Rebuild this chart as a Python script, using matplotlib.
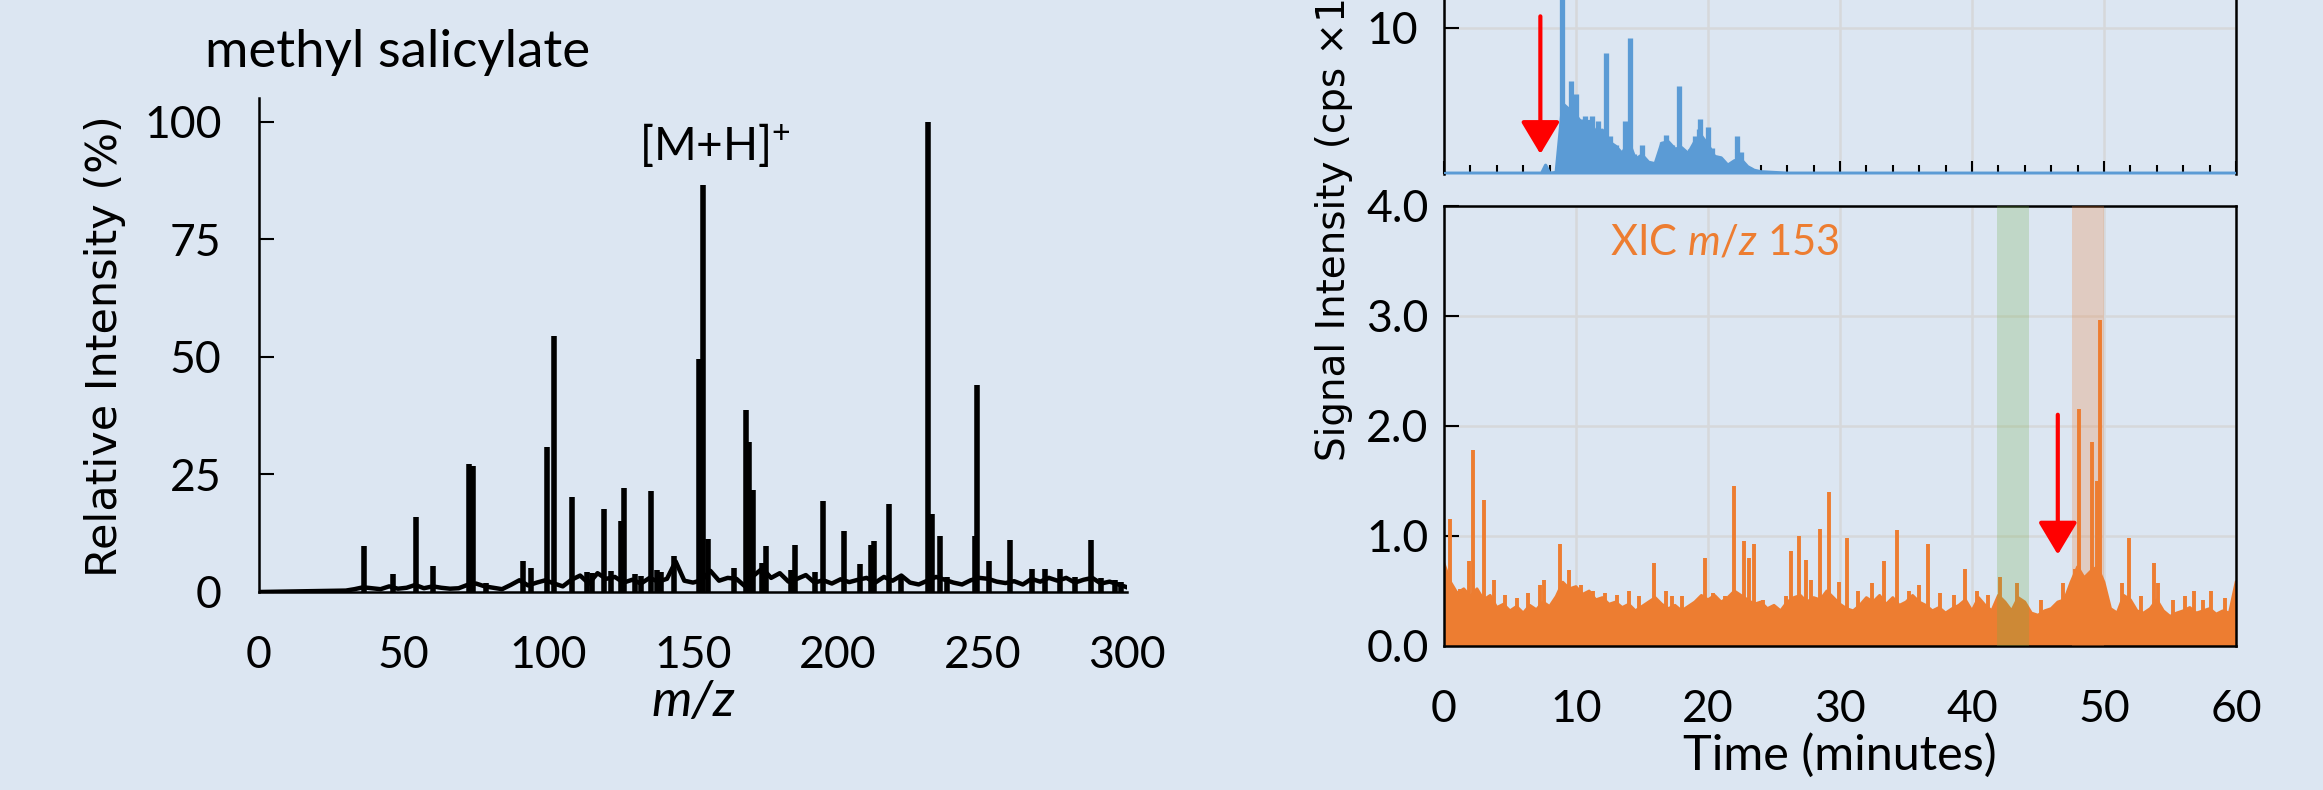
import matplotlib
matplotlib.use("Agg")
import matplotlib.pyplot as plt
import numpy as np

# ---------------- data ----------------
# mass spectrum (methyl salicylate), profile baseline + peaks
mz_base = [0, 30, 33, 36, 39, 42, 45, 48, 51, 54, 57, 60, 63, 66, 69, 72, 75, 78, 81, 84,
           87, 90, 93, 96, 99, 102, 105, 108, 111, 114, 117, 120, 123, 126, 129, 132, 135,
           138, 141, 144, 147, 150, 153, 156, 159, 162, 165, 168, 171, 174, 177, 180, 183,
           186, 189, 192, 195, 198, 201, 204, 207, 210, 213, 216, 219, 222, 225, 228, 231,
           234, 237, 240, 243, 246, 249, 252, 255, 258, 261, 264, 267, 270, 273, 276, 279,
           282, 285, 288, 291, 294, 297, 300]
int_base = [0, 0.3, 0.6, 1.0, 0.8, 0.6, 1.2, 0.7, 0.9, 1.5, 0.8, 1.2, 0.9, 0.7, 0.8, 1.5,
            1.8, 1.2, 0.9, 0.6, 1.5, 2.5, 1.4, 2.0, 2.5, 1.8, 1.2, 2.6, 3.5, 1.8, 4.0, 2.8,
            3.2, 2.0, 2.6, 1.8, 3.0, 2.2, 2.8, 6.5, 2.4, 2.0, 2.5, 4.5, 2.4, 3.0, 2.8, 1.2,
            3.5, 5.0, 3.0, 4.0, 2.2, 2.8, 3.6, 2.0, 2.5, 1.8, 2.7, 2.1, 2.6, 3.0, 2.0, 3.2,
            2.4, 3.5, 2.0, 1.6, 2.4, 3.2, 2.6, 2.0, 1.6, 2.5, 3.0, 2.8, 2.2, 1.9, 2.3, 1.6,
            2.8, 2.2, 3.0, 2.4, 3.0, 2.0, 2.6, 3.0, 1.8, 2.2, 1.6, 1.0]
mz_peak = [36.4, 46.3, 54.4, 60.2, 72.7, 74.1, 78.3, 91.4, 94.1, 99.5, 102.1, 108.2,
           113.5, 115.0, 119.3, 121.5, 125.2, 126.3, 130.0, 132.0, 135.4, 137.5, 139.0,
           143.6, 152.1, 153.3, 155.2, 164.0, 168.3, 169.4, 170.9, 174.0, 175.1, 184.0,
           185.2, 192.0, 195.1, 202.1, 207.6, 211.5, 212.6, 217.6, 222.0, 231.3, 232.7,
           235.2, 237.7, 247.3, 248.1, 252.3, 259.4, 267.2, 271.5, 277.0, 282.0, 287.4,
           291.0, 295.9, 298.0]
int_peak = [9.8, 3.8, 15.9, 5.5, 27.2, 26.7, 2.0, 6.6, 5.2, 30.9, 54.5, 20.1,
            4.2, 4.0, 17.7, 4.5, 15.0, 22.1, 3.8, 3.5, 21.4, 4.6, 4.2,
            7.6, 49.5, 86.5, 11.2, 5.0, 38.6, 31.9, 21.7, 6.2, 9.8, 4.6,
            9.9, 4.2, 19.3, 13.0, 6.0, 10.0, 10.8, 18.6, 3.6, 100.0, 16.5,
            11.9, 3.2, 12.0, 44.0, 6.6, 11.0, 4.9, 4.9, 4.9, 3.2, 11.0,
            3.0, 2.5, 2.2]

# top chromatogram (blue), baseline envelope + spikes
t_blue = [0, 7.4, 7.7, 8.0, 8.5, 9.0, 9.5, 10.0, 10.5, 11.0, 11.5, 12.0, 12.5, 13.0,
          13.5, 14.0, 14.5, 15.0, 15.5, 16.0, 16.5, 17.0, 17.5, 18.0, 18.5, 19.0, 19.5,
          20.0, 20.5, 21.0, 21.5, 22.0, 22.5, 23.0, 23.5, 24.0, 25.0, 26.0, 60]
v_blue = [0.05, 0.05, 0.6, 0.05, 0.1, 4.8, 4.4, 4.0, 3.4, 3.6, 2.9, 3.0, 2.2, 1.9,
          1.4, 2.2, 1.0, 1.3, 0.8, 0.7, 2.1, 2.2, 1.7, 1.8, 1.4, 2.2, 2.6,
          2.0, 1.2, 1.1, 0.6, 0.9, 1.0, 0.5, 0.25, 0.15, 0.1, 0.05, 0.05]
t_blue_pk = [8.95, 9.3, 9.6, 10.0, 10.3, 10.5, 10.7, 11.0, 11.2, 11.5, 11.7, 12.0, 12.3,
             12.6, 13.0, 13.7, 14.1, 14.4, 15.0, 16.5, 16.8, 17.3, 17.8, 18.6, 19.0,
             19.3, 19.4, 19.6, 20.0, 20.3, 20.6, 22.2, 22.5, 23.1]
v_blue_pk = [25.0, 4.5, 6.4, 5.5, 3.8, 3.0, 4.0, 3.2, 4.0, 3.0, 3.6, 2.5, 8.3,
             2.6, 2.0, 3.6, 9.3, 1.4, 2.0, 2.2, 2.7, 2.0, 6.0, 1.7, 2.6,
             3.1, 3.8, 2.3, 3.2, 1.8, 1.2, 2.6, 1.5, 0.5]

# bottom chromatogram, XIC m/z 153 (orange), every 0.5 min + spikes
t_xic = np.arange(0, 60.5, 0.5)
v_xic = [0.75, 0.58, 0.48, 0.52, 0.45, 0.52, 0.42, 0.46, 0.35, 0.38,
         0.32, 0.36, 0.30, 0.37, 0.33, 0.40, 0.36, 0.45, 0.58, 0.52,
         0.54, 0.47, 0.50, 0.42, 0.44, 0.38, 0.40, 0.35, 0.38, 0.32,
         0.36, 0.40, 0.44, 0.38, 0.34, 0.37, 0.32, 0.36, 0.40, 0.46,
         0.42, 0.46, 0.40, 0.44, 0.50, 0.46, 0.42, 0.38, 0.40, 0.34,
         0.37, 0.32, 0.40, 0.44, 0.46, 0.40, 0.44, 0.42, 0.50, 0.44,
         0.38, 0.34, 0.32, 0.37, 0.44, 0.40, 0.46, 0.38, 0.44, 0.37,
         0.40, 0.46, 0.40, 0.37, 0.32, 0.35, 0.30, 0.34, 0.37, 0.42,
         0.32, 0.44, 0.37, 0.32, 0.46, 0.40, 0.32, 0.44, 0.40, 0.30,
         0.28, 0.32, 0.34, 0.40, 0.42, 0.58, 0.72, 0.62, 0.68, 0.72,
         0.58, 0.34, 0.30, 0.46, 0.42, 0.32, 0.30, 0.34, 0.42, 0.32,
         0.27, 0.30, 0.32, 0.35, 0.30, 0.32, 0.34, 0.29, 0.32, 0.30,
         0.58]
t_xic_pk = [0.44, 1.2, 1.9, 2.2, 3.04, 3.8, 4.6, 5.5, 6.4, 7.3, 7.6, 8.8, 9.5, 10.4,
            11.3, 12.2, 13.1, 14.0, 14.8, 15.9, 16.8, 17.3, 18.0, 19.8, 20.4, 21.3,
            22.0, 22.7, 23.1, 23.5, 24.2, 25.9, 26.3, 26.9, 27.4, 27.8, 28.5, 29.2,
            29.9, 30.5, 31.4, 32.4, 33.0, 33.3, 34.3, 35.2, 36.0, 36.7, 37.6, 38.6,
            39.5, 40.4, 41.2, 42.1, 43.4, 45.2, 46.9, 47.8, 48.1, 49.1, 49.5, 49.7,
            51.4, 51.9, 52.8, 53.8, 54.1, 55.2, 56.1, 56.8, 57.5, 58.1, 59.2]
v_xic_pk = [1.15, 0.52, 0.77, 1.78, 1.33, 0.6, 0.46, 0.44, 0.48, 0.55, 0.6, 0.93, 0.69, 0.55,
            0.5, 0.48, 0.46, 0.5, 0.45, 0.75, 0.5, 0.45, 0.45, 0.8, 0.48, 0.45,
            1.45, 0.95, 0.8, 0.93, 0.42, 0.45, 0.86, 1.0, 0.78, 0.6, 1.06, 1.4,
            0.58, 0.98, 0.5, 0.57, 0.45, 0.77, 1.05, 0.5, 0.55, 0.93, 0.48, 0.46,
            0.7, 0.5, 0.46, 0.63, 0.57, 0.42, 0.57, 0.7, 2.15, 1.85, 1.5, 2.96,
            0.57, 0.98, 0.45, 0.75, 0.57, 0.42, 0.45, 0.5, 0.42, 0.5, 0.44]

green_band = (41.9, 44.3)
brown_band = (47.6, 50.0)

# ---------------- style ----------------
bg = '#dce6f2'
blue = '#5b9bd5'
orange = '#ed7d31'
grid_c = '#d6d8db'
plt.rcParams['font.family'] = ['Lato', 'DejaVu Sans']
plt.rcParams['mathtext.fontset'] = 'custom'
plt.rcParams['mathtext.rm'] = 'Lato'
plt.rcParams['mathtext.it'] = 'Lato:italic'
fs = 32

W, H = 2323, 790
fig = plt.figure(figsize=(W / 100, H / 100), dpi=100, facecolor=bg)

# ---------------- left: mass spectrum ----------------
ax = fig.add_axes([259 / W, 1 - 592 / H, 868 / W, 494 / H], facecolor='none')
ax.plot(mz_base, int_base, color='k', lw=3.2)
ax.vlines(mz_peak, 0, int_peak, color='k', lw=4)
ax.set_xlim(0, 300)
ax.set_ylim(0, 105)
ax.set_xticks([0, 50, 100, 150, 200, 250, 300])
ax.set_yticks([0, 25, 50, 75, 100])
for s in ['top', 'right']:
    ax.spines[s].set_visible(False)
for s in ['left', 'bottom']:
    ax.spines[s].set_linewidth(1.8)
ax.tick_params(axis='y', direction='in', length=11, width=1.5, pad=27, labelsize=fs)
ax.tick_params(axis='x', length=0, pad=31, labelsize=fs)
ax.set_xlabel('m/z', fontsize=37, style='italic', labelpad=2)
ax.text(131.5, 95, '[M+H]$^{+}$', fontsize=33, va='center', ha='left')
fig.text(398 / W, 1 - 53 / H, 'methyl salicylate', fontsize=38, ha='center', va='center')
fig.text(105 / W, 1 - 346 / H, 'Relative Intensity (%)', family='DejaVu Sans',
         fontsize=31, rotation=90, ha='center', va='center')

# ---------------- right bottom: XIC ----------------
ab = fig.add_axes([1444 / W, 1 - 646 / H, 792 / W, 440.5 / H], facecolor='none')
ab.set_axisbelow(True)
ab.grid(color=grid_c, lw=1.8)
ab.fill_between(t_xic, 0, v_xic, color=orange, lw=0)
ab.plot(t_xic, v_xic, color=orange, lw=2)
ab.vlines(t_xic_pk, 0, v_xic_pk, color=orange, lw=2.8)
ab.axvspan(*green_band, color='#70ad47', alpha=0.25, lw=0, zorder=3)
ab.axvspan(*brown_band, color=orange, alpha=0.25, lw=0, zorder=3)
ab.annotate('', xy=(46.5, 0.83), xytext=(46.5, 2.1),
            arrowprops=dict(arrowstyle='-|>,head_length=1.0,head_width=0.6',
                            color='red', lw=3, mutation_scale=20, shrinkA=0, shrinkB=0),
            zorder=5)
ab.text(12.6, 3.66, 'XIC $m/z$ 153', color=orange, fontsize=30, va='center', ha='left')
ab.set_xlim(0, 60)
ab.set_ylim(0, 4)
ab.set_xticks([0, 10, 20, 30, 40, 50, 60])
ab.set_yticks([0, 1, 2, 3, 4])
ab.set_yticklabels(['0.0', '1.0', '2.0', '3.0', '4.0'])
for s in ab.spines.values():
    s.set_linewidth(1.8)
ab.tick_params(axis='y', direction='in', length=11, width=1.5, pad=11, labelsize=fs)
ab.tick_params(axis='x', length=0, pad=31, labelsize=fs)
ab.set_xlabel('Time (minutes)', fontsize=35, labelpad=2)

# ---------------- right top: TIC (cropped at top) ----------------
at = fig.add_axes([1444 / W, 1 - 174 / H, 792 / W, 438 / H], facecolor='none')
at.set_axisbelow(True)
at.grid(color=grid_c, lw=1.8)
at.fill_between(t_blue, 0, v_blue, color=blue, lw=0)
at.plot(t_blue, v_blue, color=blue, lw=2.4)
at.vlines(t_blue_pk, 0, v_blue_pk, color=blue, lw=3.8)
at.axhline(0, color=blue, lw=3, zorder=4)
at.annotate('', xy=(7.3, 1.37), xytext=(7.3, 10.8),
            arrowprops=dict(arrowstyle='-|>,head_length=1.0,head_width=0.6',
                            color='red', lw=3, mutation_scale=20, shrinkA=0, shrinkB=0),
            zorder=5)
at.set_xlim(0, 60)
at.set_ylim(0, 30)
at.set_xticks([0, 10, 20, 30, 40, 50, 60])
at.set_xticks(np.arange(0, 61, 2), minor=True)
at.set_yticks([10, 20, 30])
for s in at.spines.values():
    s.set_linewidth(1.8)
at.spines['bottom'].set_visible(False)
at.tick_params(axis='y', direction='in', length=11, width=1.5, pad=19, labelsize=fs)
at.tick_params(axis='x', which='major', direction='in', length=9.5, width=1.5,
               labelbottom=False)
at.tick_params(axis='x', which='minor', direction='in', length=6.5, width=1.5)
fig.text(1334 / W, 1 - 461 / H, 'Signal Intensity (cps \u00d710\u00b3)', family='DejaVu Sans',
         fontsize=28, rotation=90, ha='center', va='bottom')

fig.savefig('out.png', dpi=100, facecolor=bg)
